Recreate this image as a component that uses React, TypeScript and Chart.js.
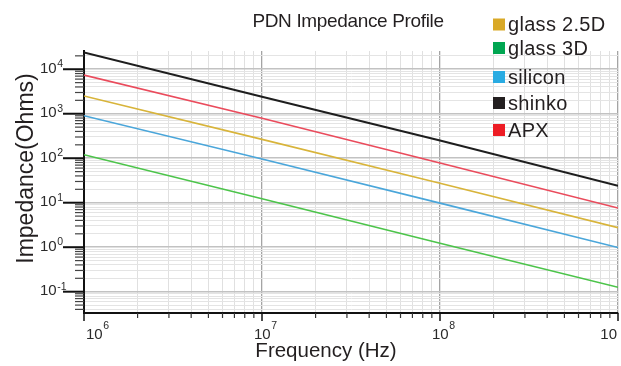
import React, { useEffect, useRef } from 'react';
import { Chart, registerables } from 'chart.js';

Chart.register(...registerables);

// ---- data ----
const frequencies = [1e6, 1e7, 1e8, 1e9];
const glass25D = [2500, 265, 27.5, 2.75];
const glass3D = [120, 12.3, 1.23, 0.126];
const silicon = [900, 96, 9.8, 0.98];
const shinko = [23700, 2400, 250, 24];
const apx = [7400, 790, 78, 7.6];

const seriesNames = ['glass 2.5D', 'glass 3D', 'silicon', 'shinko', 'APX'];
const seriesValues = [glass25D, glass3D, silicon, shinko, apx];

const xTickValues = [1e6, 1e7, 1e8, 1e9];
const xTickExponents = ['6', '7', '8', ''];
const yTickValues = [0.1, 1, 10, 100, 1000, 10000];
const yTickExponents = ['-1', '0', '1', '2', '3', '4'];

const xMin = 1e6;
const xMax = 1e9;
const yMin = 0.0332;
const yMax = 25700;

const chartTitle = 'PDN Impedance Profile';
const xTitle = 'Frequency (Hz)';
const yTitle = 'Impedance(Ohms)';

// ---- styles ----
const lineColors = ['#d8b43a', '#4cc44a', '#4aa6da', '#1e1e1e', '#ea4b5c'];
const legendColors = ['#d9a927', '#00a651', '#29abe2', '#231f20', '#ed1c24'];
const lineWidths = [1.6, 1.6, 1.6, 2, 1.6];
const FONT = '"Liberation Sans", Arial, Helvetica, sans-serif';
const legendRowY = [24.5, 48, 77, 103, 130];

function logGridTicks(min: number, max: number) {
  const out: { value: number; major: boolean }[] = [];
  const e0 = Math.floor(Math.log10(min));
  const e1 = Math.ceil(Math.log10(max));
  for (let e = e0; e <= e1; e++) {
    for (let k = 1; k <= 9; k++) {
      const v = k * Math.pow(10, e);
      if (v >= min * 0.9999 && v <= max * 1.0001) out.push({ value: v, major: k === 1 });
    }
  }
  return out;
}

const decorPlugin = {
  id: 'decor',
  afterDraw(chart: any) {
    const ctx: CanvasRenderingContext2D = chart.ctx;
    const xs = chart.scales.x;
    const ys = chart.scales.y;
    const a = chart.chartArea;
    ctx.save();

    // x tick marks
    xs.ticks.forEach((t: any) => {
      const px = xs.getPixelForValue(t.value);
      ctx.beginPath();
      ctx.strokeStyle = t.major ? '#111' : '#333';
      ctx.lineWidth = t.major ? 1.5 : 1.2;
      ctx.moveTo(px, a.bottom);
      ctx.lineTo(px, a.bottom + (t.major ? 8 : 5));
      ctx.stroke();
    });
    // y tick marks
    ys.ticks.forEach((t: any) => {
      const py = ys.getPixelForValue(t.value);
      ctx.beginPath();
      ctx.strokeStyle = t.major ? '#111' : '#444';
      ctx.lineWidth = t.major ? 2 : 1.2;
      ctx.moveTo(a.left - (t.major ? 21 : 9), py);
      ctx.lineTo(a.left, py);
      ctx.stroke();
    });

    ctx.fillStyle = '#2a2a2a';
    ctx.textBaseline = 'alphabetic';
    // y tick labels
    yTickValues.forEach((v, i) => {
      const py = ys.getPixelForValue(v);
      ctx.textAlign = 'left';
      ctx.font = '15px ' + FONT;
      ctx.fillText('10', 40, py + 3.5);
      const w = ctx.measureText('10').width;
      ctx.font = '10.5px ' + FONT;
      ctx.fillText(yTickExponents[i], 40 + w + 0.5, py - 2);
    });
    // x tick labels
    xTickValues.forEach((v, i) => {
      const px = xs.getPixelForValue(v);
      ctx.font = '15px ' + FONT;
      const w = ctx.measureText('10').width;
      let left: number;
      if (i === 0) left = px + 2;
      else if (xTickExponents[i] === '') left = px - 1 - w;
      else left = px - 8;
      ctx.textAlign = 'left';
      ctx.fillText('10', left, 338.5);
      if (xTickExponents[i]) {
        ctx.font = '10.5px ' + FONT;
        ctx.fillText(xTickExponents[i], left + w + 0.5, 328.5);
      }
    });

    // titles
    ctx.fillStyle = '#231f20';
    ctx.textAlign = 'center';
    ctx.font = '19px ' + FONT;
    (ctx as any).letterSpacing = '-0.35px';
    ctx.fillText(chartTitle, 348, 26.7);
    (ctx as any).letterSpacing = '0px';
    ctx.font = '20.5px ' + FONT;
    ctx.fillText(xTitle, 326, 356.7);
    ctx.save();
    ctx.translate(33, 168.5);
    ctx.rotate(-Math.PI / 2);
    ctx.font = '23px ' + FONT;
    ctx.fillText(yTitle, 0, 0);
    ctx.restore();

    // legend
    chart.data.datasets.forEach((ds: any, i: number) => {
      const cy = legendRowY[i];
      ctx.fillStyle = legendColors[i];
      ctx.fillRect(493, cy - 6, 12, 12);
      ctx.fillStyle = '#231f20';
      ctx.textAlign = 'left';
      ctx.font = '20px ' + FONT;
      (ctx as any).letterSpacing = '0.3px';
      ctx.fillText(ds.label, 508, cy + 6.5);
      (ctx as any).letterSpacing = '0px';
    });

    ctx.restore();
  },
};

export default function App() {
  const ref = useRef<HTMLCanvasElement | null>(null);

  useEffect(() => {
    if (!ref.current) return;
    const chart = new Chart(ref.current, {
      type: 'line',
      data: {
        datasets: seriesNames.map((name, i) => ({
          label: name,
          data: frequencies.map((f, j) => ({ x: f, y: seriesValues[i][j] })),
          borderColor: lineColors[i],
          backgroundColor: lineColors[i],
          borderWidth: lineWidths[i],
          pointRadius: 0,
          tension: 0,
          fill: false,
        })),
      },
      options: {
        responsive: false,
        animation: false,
        devicePixelRatio: 1,
        layout: { padding: { left: 84, right: 3, top: 51, bottom: 53 } },
        plugins: {
          legend: { display: false },
          title: { display: false },
          tooltip: { enabled: false },
        },
        scales: {
          x: {
            type: 'logarithmic',
            min: xMin,
            max: xMax,
            afterBuildTicks: (scale: any) => {
              scale.ticks = logGridTicks(xMin, xMax);
            },
            ticks: { display: false },
            grid: {
              drawTicks: false,
              color: (c: any) => (c.tick && c.tick.major ? '#a4a4a4' : '#e0e0e0'),
              lineWidth: (c: any) => (c.tick && c.tick.major ? 1.3 : 1),
            },
            border: { display: true, color: '#111', width: 2 },
          },
          y: {
            type: 'logarithmic',
            min: yMin,
            max: yMax,
            afterBuildTicks: (scale: any) => {
              scale.ticks = logGridTicks(yMin, yMax);
            },
            ticks: { display: false },
            grid: {
              drawTicks: false,
              color: (c: any) => (c.tick && c.tick.major ? '#c2c2c2' : '#e4e4e4'),
              lineWidth: (c: any) => (c.tick && c.tick.major ? 1.5 : 1),
            },
            border: { display: true, color: '#111', width: 2 },
          },
        },
      } as any,
      plugins: [decorPlugin],
    });
    return () => chart.destroy();
  }, []);

  return (
    <div style={{ position: 'fixed', left: 0, top: 0, width: 621, height: 366, background: '#fff' }}>
      <canvas ref={ref} width={621} height={366} style={{ display: 'block', width: 621, height: 366 }} />
    </div>
  );
}
